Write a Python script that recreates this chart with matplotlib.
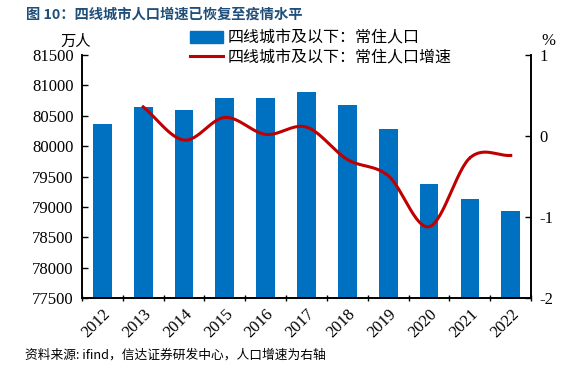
import numpy as np
import matplotlib
matplotlib.use("Agg")
import matplotlib.pyplot as plt
from matplotlib.patches import Patch
from matplotlib.lines import Line2D

years = ["2012", "2013", "2014", "2015", "2016", "2017", "2018", "2019", "2020", "2021", "2022"]
population = [80365, 80650, 80600, 80788, 80798, 80886, 80672, 80283, 79378, 79132, 78939]
growth_years = ["2013", "2014", "2015", "2016", "2017", "2018", "2019", "2020", "2021", "2022"]
growth = [0.36, -0.05, 0.23, 0.02, 0.11, -0.29, -0.49, -1.12, -0.27, -0.24]
left_ticks = [77500, 78000, 78500, 79000, 79500, 80000, 80500, 81000, 81500]
right_ticks = [-2, -1, 0, 1]

cjk = ['Noto Sans CJK SC', 'DejaVu Sans']
serif = ['Liberation Serif', 'DejaVu Serif']

fig = plt.figure(figsize=(5.73, 3.72), dpi=100)
ax = fig.add_axes([0.143, 0.199, 0.784, 0.653])
ax2 = ax.twinx()

x = np.arange(len(years))
ax.bar(x, np.array(population) - left_ticks[0], bottom=left_ticks[0], width=0.46, color='#0070C0', zorder=2)
ax.set_xlim(-0.5, len(years) - 0.5)
ax.set_ylim(left_ticks[0], left_ticks[-1])
ax.set_yticks(left_ticks)
ax.set_yticklabels([str(v) for v in left_ticks], fontfamily=serif, fontsize=12)
ax.set_xticks(x)
ax.set_xticklabels(years, rotation=45, fontfamily=serif, fontsize=12, ha='right', rotation_mode='anchor')
ax.set_xticks(np.arange(-0.5, len(years)), minor=True)
ax.tick_params(axis='x', which='major', length=0, pad=6)
ax.tick_params(axis='x', which='minor', length=4, direction='inout', width=1)
ax.tick_params(axis='y', direction='in', length=4, width=1, pad=6)

# smooth line (Catmull-Rom through the points)
gx = np.array([years.index(y) for y in growth_years], dtype=float)
gy = np.array(growth)
px = np.concatenate([[2 * gx[0] - gx[1]], gx, [2 * gx[-1] - gx[-2]]])
py = np.concatenate([[2 * gy[0] - gy[1]], gy, [2 * gy[-1] - gy[-2]]])
sx, sy = [], []
for i in range(1, len(px) - 2):
    t = np.linspace(0, 1, 30)
    for arr, out in ((px, sx), (py, sy)):
        p0, p1, p2, p3 = arr[i - 1], arr[i], arr[i + 1], arr[i + 2]
        out.extend(0.5 * ((2 * p1) + (-p0 + p2) * t + (2 * p0 - 5 * p1 + 4 * p2 - p3) * t ** 2 + (-p0 + 3 * p1 - 3 * p2 + p3) * t ** 3))
ax2.plot(sx, sy, color='#C00000', lw=2.2, zorder=3)
ax2.set_ylim(right_ticks[0], right_ticks[-1])
ax2.set_yticks(right_ticks)
ax2.set_yticklabels([str(v) for v in right_ticks], fontfamily=serif, fontsize=12)
ax2.tick_params(axis='y', direction='in', length=4, width=1, pad=6)

for a in (ax, ax2):
    a.spines['top'].set_visible(False)
    for s in ('left', 'right', 'bottom'):
        a.spines[s].set_linewidth(1.2)

fig.text(0.045, 0.96, "图 10：四线城市人口增速已恢复至疫情水平", fontfamily=cjk, fontsize=10.3,
         fontweight='bold', color='#1F4E79', va='center')
fig.text(0.105, 0.89, "万人", fontfamily=cjk, fontsize=11, va='center')
fig.text(0.944, 0.89, "%", fontfamily=serif, fontsize=12, va='center')
fig.text(0.044, 0.046, "资料来源: ifind，信达证券研发中心，人口增速为右轴", fontfamily=cjk, fontsize=9.2,
         style='italic', va='center')

handles = [Patch(color='#0070C0'), Line2D([0], [0], color='#C00000', lw=2.2)]
labels = ["四线城市及以下：常住人口", "四线城市及以下：常住人口增速"]
fig.legend(handles, labels, loc='center left', bbox_to_anchor=(0.332, 0.872), frameon=False,
           prop={'family': cjk, 'size': 11.5}, handlelength=2.06, handleheight=0.8,
           labelspacing=0.18, handletextpad=0.25, borderpad=0, borderaxespad=0)

fig.savefig("out.png", dpi=100)
